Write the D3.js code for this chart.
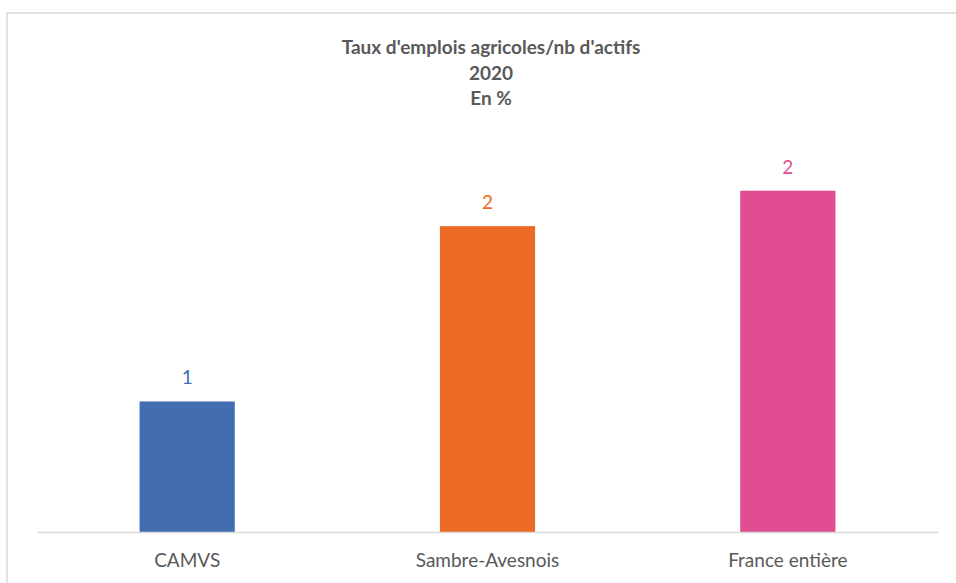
<!DOCTYPE html>
<html>
<head>
<meta charset="utf-8">
<script src="https://cdn.jsdelivr.net/npm/d3@7"></script>
<style>
  body { margin: 0; background: #fff; }
  text { font-family: Lato, "Open Sans", sans-serif; }
</style>
</head>
<body>
<svg id="chart" width="956" height="583"></svg>
<script>
// data
const categories = ['CAMVS', 'Sambre-Avesnois', 'France entière'];
const values = [0.7, 1.64, 1.83];
const colors = ['#426eb1', '#eb6a26', '#e04e91'];
const titleLines = ["Taux d'emplois agricoles/nb d'actifs", '2020', 'En %'];

const svg = d3.select('#chart');
const margin = { top: 159, left: 37, right: 18, bottom: 51 };
const W = 956, H = 583;

// outer frame
svg.append('rect')
  .attr('x', 7).attr('y', 13)
  .attr('width', 960).attr('height', 590)
  .attr('fill', 'none')
  .attr('stroke', '#d9d9d9')
  .attr('stroke-width', 1.5);

// title
const title = svg.append('g').attr('class', 'title')
title.selectAll('text')
  .data(titleLines)
  .join('text')
  .attr('x', 491)
  .attr('y', (d, i) => 54 + i * 25.5)
  .attr('text-anchor', 'middle')
  .attr('fill', '#595959')
  .attr('font-weight', 'bold')
  .attr('font-size', '19px')
  .text(d => d);

const x = d3.scaleBand()
  .domain(categories)
  .range([margin.left, W - margin.right])
  .paddingInner(0.683)
  .paddingOuter(0.3415);

const y = d3.scaleLinear()
  .domain([0, 2])
  .range([H - margin.bottom, margin.top]);

const rows = categories.map((c, i) => ({ cat: c, val: values[i], color: colors[i] }));

// bars
svg.append('g').attr('class', 'bars')
  .selectAll('rect')
  .data(rows)
  .join('rect')
  .attr('x', d => x(d.cat))
  .attr('y', d => y(d.val))
  .attr('width', x.bandwidth())
  .attr('height', d => y(0) - y(d.val))
  .attr('fill', d => d.color);

// value labels
svg.append('g').attr('class', 'labels')
  .selectAll('text')
  .data(rows)
  .join('text')
  .attr('x', d => x(d.cat) + x.bandwidth() / 2)
  .attr('y', d => y(d.val) - 17)
  .attr('text-anchor', 'middle')
  .attr('fill', d => d.color)
  .attr('font-size', '19px')
  .text(d => d3.format('.0f')(d.val));

// x axis
const xAxis = svg.append('g')
  .attr('transform', `translate(0,${y(0)})`)
  .call(d3.axisBottom(x).tickSize(0).tickPadding(18));
xAxis.select('.domain').attr('stroke', '#d9d9d9').attr('stroke-width', 1.5);
xAxis.selectAll('text')
  .attr('fill', '#595959')
  .attr('font-size', '19px')
  .attr('dy', '0.9em');
</script>
</body>
</html>
